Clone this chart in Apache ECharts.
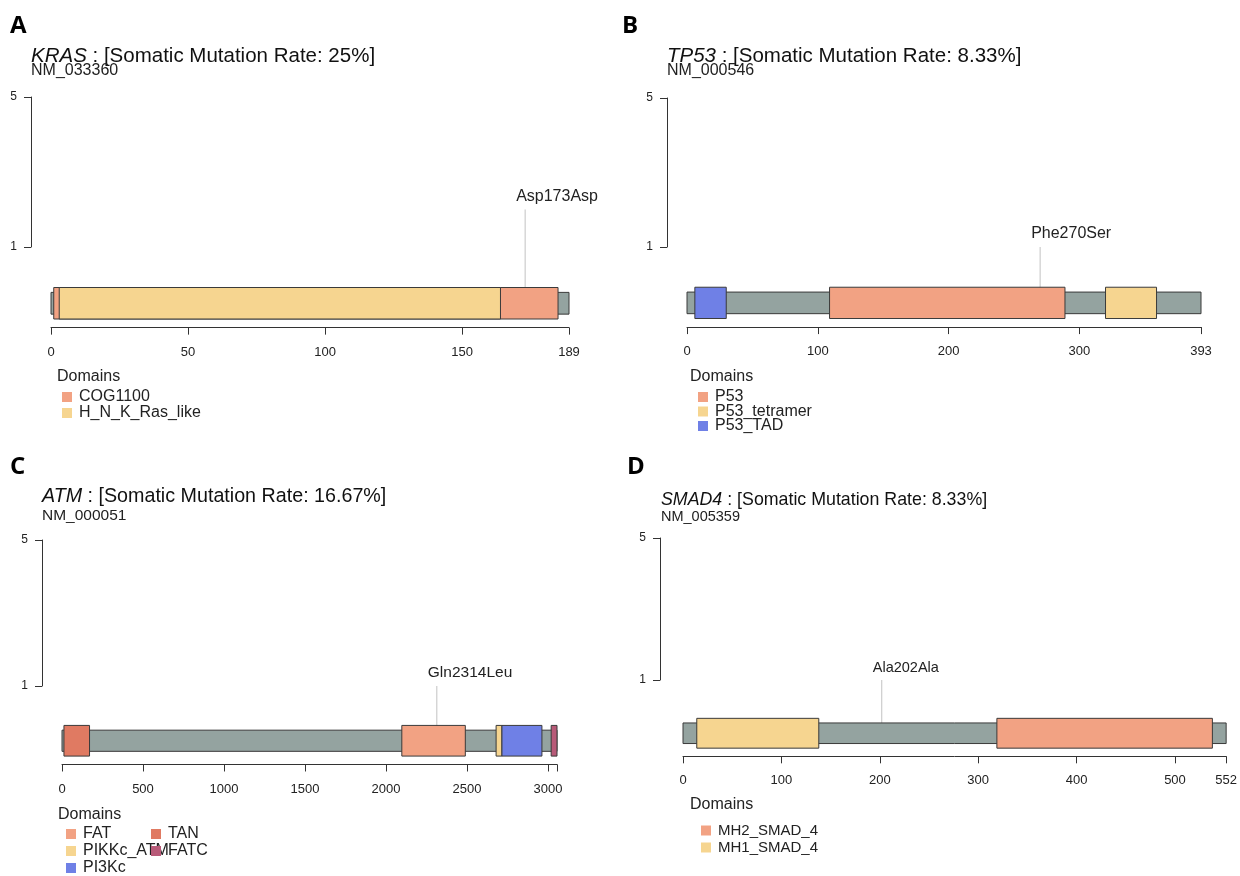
<!DOCTYPE html>
<html>
<head>
<meta charset="utf-8">
<title>Somatic mutation lollipop plots</title>
<script src="https://cdn.jsdelivr.net/npm/echarts@6/dist/echarts.min.js"></script>
<style>
  html, body { margin: 0; padding: 0; background: #ffffff; }
  #chart { width: 1240px; height: 876px; }
</style>
</head>
<body>
<div id="chart"></div>
<script>
// ---- Genes shown, one panel each ----
const panelLetters = ['A', 'B', 'C', 'D'];
const geneNames = ['KRAS', 'TP53', 'ATM', 'SMAD4'];
const mutationRates = ['25%', '8.33%', '16.67%', '8.33%'];
const transcriptIds = ['NM_033360', 'NM_000546', 'NM_000051', 'NM_005359'];
const proteinLengths = [189, 393, 3056, 552];

// ---- Amino-acid position ticks ----
const krasTicks = [0, 50, 100, 150, 189];
const tp53Ticks = [0, 100, 200, 300, 393];
const atmTicks = [0, 500, 1000, 1500, 2000, 2500, 3000, 3056];
const atmTickLabels = [0, 500, 1000, 1500, 2000, 2500, 3000];
const smad4Ticks = [0, 100, 200, 300, 400, 500, 552];
const countTicks = [1, 5];

// ---- Protein domains (amino-acid start / end), in drawing order ----
const krasDomainNames = ['COG1100', 'H_N_K_Ras_like'];
const krasDomainStarts = [1, 3];
const krasDomainEnds = [185, 164];

const tp53DomainNames = ['P53', 'P53_tetramer', 'P53_TAD'];
const tp53DomainStarts = [109, 320, 6];
const tp53DomainEnds = [289, 359, 30];

const atmDomainNames = ['TAN', 'FAT', 'PIKKc_ATM', 'PI3Kc', 'FATC'];
const atmDomainStarts = [12, 2098, 2680, 2716, 3020];
const atmDomainEnds = [170, 2490, 2716, 2963, 3056];

const smad4DomainNames = ['MH1_SMAD_4', 'MH2_SMAD_4'];
const smad4DomainStarts = [14, 319];
const smad4DomainEnds = [138, 538];

// ---- Legend order per panel ----
const krasLegend = ['COG1100', 'H_N_K_Ras_like'];
const tp53Legend = ['P53', 'P53_tetramer', 'P53_TAD'];
const atmLegendLeft = ['FAT', 'PIKKc_ATM', 'PI3Kc'];
const atmLegendRight = ['TAN', 'FATC'];
const smad4Legend = ['MH2_SMAD_4', 'MH1_SMAD_4'];

// ---- Mutations (one lollipop per gene) ----
const mutationLabels = ['Asp173Asp', 'Phe270Ser', 'Gln2314Leu', 'Ala202Ala'];
const mutationPositions = [173, 270, 2314, 202];
const mutationCounts = [2, 1, 1, 1];

// ---------------------------------------------------------------
const FONT = '"Liberation Sans", Arial, Helvetica, sans-serif';
const TEXT = '#222222';
const AXIS = '#333333';

const domainColors = {
  'COG1100': '#F2A283', 'H_N_K_Ras_like': '#F6D590',
  'P53': '#F2A283', 'P53_tetramer': '#F6D590', 'P53_TAD': '#6F80E6',
  'FAT': '#F2A283', 'PIKKc_ATM': '#F6D590', 'PI3Kc': '#6F80E6',
  'TAN': '#E07A62', 'FATC': '#B85A78',
  'MH2_SMAD_4': '#F2A283', 'MH1_SMAD_4': '#F6D590'
};
const BACKBONE = '#94A3A0';

const domainSets = [
  [krasDomainNames, krasDomainStarts, krasDomainEnds],
  [tp53DomainNames, tp53DomainStarts, tp53DomainEnds],
  [atmDomainNames, atmDomainStarts, atmDomainEnds],
  [smad4DomainNames, smad4DomainStarts, smad4DomainEnds]
];
const tickSets = [
  [krasTicks, krasTicks], [tp53Ticks, tp53Ticks],
  [atmTicks, atmTickLabels], [smad4Ticks, smad4Ticks]
];

// Panel geometry in pixels: protein axis span, count-axis span, text anchors
const layouts = [
  { xL: 51, xR: 569, y5: 97, y1: 247, bx: 31,
    letter: [10, 26], title: [31, 56], nm: [31, 71], titleSize: 20.5, nmSize: 16,
    dom: [57, 377], legendSize: 16, mutSize: 16,
    legends: [{ names: krasLegend, left: 62, top: 389, gap: 0 }] },
  { xL: 687, xR: 1201, y5: 98, y1: 247, bx: 667,
    letter: [622, 26], title: [667, 56], nm: [667, 71], titleSize: 20.5, nmSize: 16,
    dom: [690, 377], legendSize: 16, mutSize: 16,
    legends: [{ names: tp53Legend, left: 698, top: 389, gap: -1.5 }] },
  { xL: 62, xR: 557, y5: 540, y1: 686, bx: 42,
    letter: [10, 467], title: [42, 497], nm: [42, 516], titleSize: 19.7, nmSize: 15.5,
    dom: [58, 815], legendSize: 16, mutSize: 15.5,
    legends: [{ names: atmLegendLeft, left: 66, top: 826, gap: 1 },
              { names: atmLegendRight, left: 151, top: 826, gap: 1 }] },
  { xL: 683, xR: 1232, y5: 538, y1: 680, bx: 660,
    letter: [627, 467], title: [661, 500], nm: [661, 517], titleSize: 17.8, nmSize: 14.5,
    dom: [690, 805], legendSize: 15, mutSize: 14.5,
    legends: [{ names: smad4Legend, left: 701, top: 823, gap: 2 }] }
];

// Vertical placement of the protein bar in count units
const COUNT_MIN = -1.15, COUNT_MAX = 5;
const BAR_CENTER = -0.5, DOMAIN_HALF = 0.42, BACKBONE_HALF = 0.29;

function barRect(api, half, start, end) {
  const p0 = api.coord([start, BAR_CENTER + half]);
  const p1 = api.coord([end, BAR_CENTER - half]);
  return {
    type: 'rect',
    shape: { x: p0[0], y: p0[1], width: p1[0] - p0[0], height: p1[1] - p0[1] },
    style: { fill: api.visual('color'), stroke: '#3a3a3a', lineWidth: 1 }
  };
}

const grids = [], xAxes = [], yAxes = [], series = [], legends = [], graphics = [];

layouts.forEach((L, i) => {
  const length = proteinLengths[i];
  const unit = (L.y1 - L.y5) / 4;
  const main = grids.length;
  grids.push({ left: L.xL, top: L.y5, width: L.xR - L.xL,
               height: unit * (COUNT_MAX - COUNT_MIN) });
  xAxes.push({
    type: 'value', gridIndex: main, min: 0, max: length, position: 'bottom',
    axisLine: { show: true, onZero: false, lineStyle: { color: AXIS, width: 1 } },
    axisTick: { show: true, inside: false, length: 7, customValues: tickSets[i][0],
                lineStyle: { color: AXIS, width: 1 } },
    axisLabel: { show: true, customValues: tickSets[i][1], margin: 18,
                 fontSize: 13, color: TEXT, fontFamily: FONT,
                 formatter: v => String(v) },
    splitLine: { show: false }
  });
  yAxes.push({ type: 'value', gridIndex: main, min: COUNT_MIN, max: COUNT_MAX, show: false });

  // count axis drawn as a bracket from 1 to 5
  const side = grids.length;
  grids.push({ left: L.bx, top: L.y5, width: 20, height: L.y1 - L.y5 });
  xAxes.push({ type: 'value', gridIndex: side, min: 0, max: 1, show: false });
  yAxes.push({
    type: 'value', gridIndex: side, min: 1, max: 5, position: 'left',
    axisLine: { show: true, onZero: false, lineStyle: { color: AXIS, width: 1 } },
    axisTick: { show: true, length: 7, customValues: countTicks,
                lineStyle: { color: AXIS, width: 1 } },
    axisLabel: { show: true, customValues: countTicks, margin: 14,
                 fontSize: 12, color: TEXT, fontFamily: FONT },
    splitLine: { show: false }
  });

  // mutation stem and its label
  series.push({
    type: 'custom', name: 'mutation-' + geneNames[i], clip: false, z: 1,
    xAxisIndex: main, yAxisIndex: main, silent: true,
    data: [[mutationPositions[i], mutationCounts[i], mutationLabels[i]]],
    renderItem: (params, api) => {
      const base = api.coord([api.value(0), BAR_CENTER]);
      const top = api.coord([api.value(0), api.value(1)]);
      return {
        type: 'group',
        children: [
          { type: 'line', shape: { x1: base[0], y1: base[1], x2: top[0], y2: top[1] },
            style: { stroke: '#C2C2C2', lineWidth: 1 } },
          { type: 'text', x: top[0] - 9, y: top[1] - 5,
            style: { text: api.value(2), fill: TEXT, fontSize: L.mutSize, fontFamily: FONT,
                     align: 'left', verticalAlign: 'bottom' } }
        ]
      };
    }
  });

  // full-length protein backbone
  series.push({
    type: 'custom', name: 'backbone-' + geneNames[i], clip: false, z: 2,
    xAxisIndex: main, yAxisIndex: main, silent: true,
    itemStyle: { color: BACKBONE },
    data: [[0, length]],
    renderItem: (params, api) => barRect(api, BACKBONE_HALF, api.value(0), api.value(1))
  });

  // domains
  const [names, starts, ends] = domainSets[i];
  names.forEach((name, k) => {
    series.push({
      type: 'custom', name: name, clip: false, z: 3,
      xAxisIndex: main, yAxisIndex: main, silent: true,
      itemStyle: { color: domainColors[name] },
      data: [[starts[k], ends[k]]],
      renderItem: (params, api) => barRect(api, DOMAIN_HALF, api.value(0), api.value(1))
    });
  });

  L.legends.forEach(lg => {
    legends.push({
      data: lg.names, left: lg.left, top: lg.top, orient: 'vertical',
      padding: 0, itemGap: lg.gap, icon: 'rect', itemWidth: 10, itemHeight: 10,
      selectedMode: false, itemStyle: { borderWidth: 0 },
      textStyle: { fontSize: L.legendSize, color: TEXT, fontFamily: FONT, padding: [0, 0, 0, 2] }
    });
  });

  // panel letter, gene heading, transcript id, legend heading
  graphics.push(
    { type: 'text', x: L.letter[0], y: L.letter[1],
      style: { text: panelLetters[i], fill: '#000', fontSize: 24, fontWeight: 'bold',
               fontFamily: '"Open Sans", "Liberation Sans", sans-serif', verticalAlign: 'middle' } },
    { type: 'text', x: L.title[0], y: L.title[1],
      style: { text: '{g|' + geneNames[i] + '} : [Somatic Mutation Rate: ' + mutationRates[i] + ']',
               fill: '#111', fontSize: L.titleSize, fontFamily: FONT, verticalAlign: 'middle',
               rich: { g: { fontStyle: 'italic', fontSize: L.titleSize, fontFamily: FONT, fill: '#111' } } } },
    { type: 'text', x: L.nm[0], y: L.nm[1],
      style: { text: transcriptIds[i], fill: TEXT, fontSize: L.nmSize, fontFamily: FONT,
               verticalAlign: 'middle' } },
    { type: 'text', x: L.dom[0], y: L.dom[1],
      style: { text: 'Domains', fill: TEXT, fontSize: 16, fontFamily: FONT, verticalAlign: 'middle' } }
  );
});

const chart = echarts.init(document.getElementById('chart'), null, { renderer: 'canvas' });
chart.setOption({
  backgroundColor: '#ffffff',
  animation: false,
  grid: grids,
  xAxis: xAxes,
  yAxis: yAxes,
  legend: legends,
  series: series,
  graphic: graphics
});
</script>
</body>
</html>
